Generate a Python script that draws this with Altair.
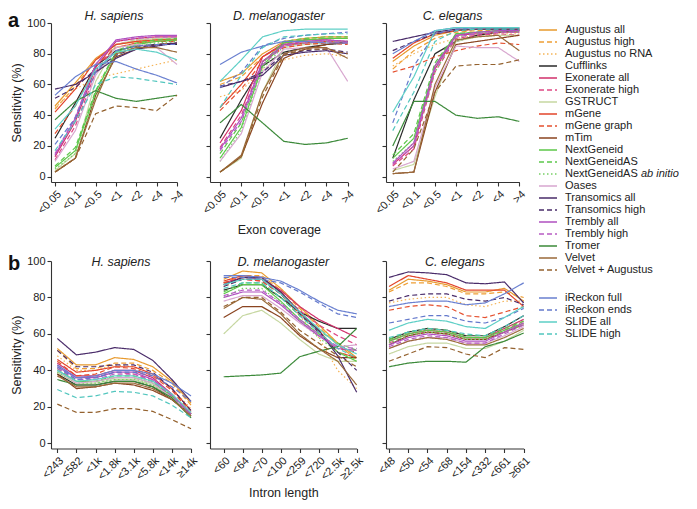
import json
import altair as alt
import pandas as pd

METHODS = ["Augustus all", "Augustus high", "Augustus no RNA", "Cufflinks", "Exonerate all",
           "Exonerate high", "GSTRUCT", "mGene", "mGene graph", "mTim", "NextGeneid",
           "NextGeneidAS", "NextGeneidAS ab initio", "Oases", "Transomics all", "Transomics high",
           "Trembly all", "Trembly high", "Tromer", "Velvet", "Velvet + Augustus",
           "iReckon full", "iReckon ends", "SLIDE all", "SLIDE high"]
COLORS = ["#E89A2E", "#EE9F35", "#F5B457", "#2B2B2B", "#D1306B",
          "#DE4884", "#C6D7A1", "#E2452B", "#E5502F", "#8A4420", "#5DC84A",
          "#5CC74B", "#77D066", "#D8A7CF", "#4A2C6A", "#4A2C6A",
          "#B050C0", "#B85CC4", "#3C8A3A", "#9A6A3A", "#94622F",
          "#6A80D0", "#6479CC", "#5ECFC6", "#52C6BE"]
STYLE = ["solid", "dashed", "dotted", "solid", "solid", "dashed", "solid", "solid", "dashed",
         "solid", "solid", "dashed", "dotted", "solid", "solid", "dashed", "solid", "dashed",
         "solid", "solid", "dashed", "solid", "dashed", "solid", "dashed"]
LEGEND_SLOTS = list(range(21)) + [22 + 1 / 3, 23 + 1 / 3, 24 + 1 / 3, 25 + 1 / 3]

EXON_CATS = ["<0.05", "<0.1", "<0.5", "<1", "<2", "<4", ">4"]
HS_INTRON_CATS = ["<243", "<582", "<1k", "<1.8k", "<3.1k", "<5.8k", "<14k", "≥14k"]
DM_INTRON_CATS = ["<60", "<64", "<70", "<100", "<259", "<720", "<2.5k", "≥2.5k"]
CE_INTRON_CATS = ["<48", "<50", "<54", "<68", "<154", "<332", "<661", "≥661"]

HS_EXON = {
    "Augustus all": [46, 61, 77, 86, 88, 89, 90],
    "Augustus high": [44, 59, 76, 84, 87, 88, 89],
    "Augustus no RNA": [45, 57, 64, 67, 70, 73, 76],
    "Cufflinks": [25, 48, 72, 82, 85, 86, 86],
    "Exonerate all": [13, 36, 71, 88, 90, 91, 91],
    "Exonerate high": [11, 33, 68, 86, 89, 90, 90],
    "GSTRUCT": [4, 15, 62, 86, 89, 90, 90],
    "mGene": [42, 57, 76, 86, 88, 89, 89],
    "mGene graph": [28, 46, 72, 84, 87, 88, 88],
    "mTim": [3, 12, 53, 78, 83, 86, 87],
    "NextGeneid": [6, 17, 55, 81, 86, 88, 89],
    "NextGeneidAS": [7, 19, 56, 82, 87, 89, 90],
    "NextGeneidAS ab initio": [5, 15, 52, 79, 85, 87, 88],
    "Oases": [10, 30, 66, 84, 86, 84, 73],
    "Transomics all": [57, 60, 68, 77, 83, 85, 87],
    "Transomics high": [51, 58, 70, 79, 84, 86, 87],
    "Trembly all": [14, 38, 73, 89, 91, 92, 92],
    "Trembly high": [15, 39, 73, 88, 90, 91, 91],
    "Tromer": [37, 49, 56, 51, 49, 51, 53],
    "Velvet": [3, 12, 50, 80, 84, 84, 81],
    "Velvet + Augustus": [3, 12, 41, 46, 45, 43, 53],
    "iReckon full": [53, 65, 73, 75, 70, 66, 61],
    "iReckon ends": [21, 38, 68, 82, 85, 86, 86],
    "SLIDE all": [31, 46, 70, 81, 83, 81, 76],
    "SLIDE high": [17, 36, 60, 65, 64, 62, 60],
}
DM_EXON = {
    "Augustus all": [62, 67, 80, 88, 90, 91, 91],
    "Augustus high": [60, 65, 78, 86, 89, 90, 90],
    "Augustus no RNA": [52, 56, 70, 76, 79, 80, 78],
    "Cufflinks": [25, 50, 72, 81, 84, 86, 87],
    "Exonerate all": [22, 43, 78, 87, 89, 89, 88],
    "Exonerate high": [19, 40, 75, 85, 87, 88, 87],
    "GSTRUCT": [3, 12, 55, 84, 86, 87, 87],
    "mGene": [45, 60, 78, 86, 87, 88, 87],
    "mGene graph": [43, 57, 75, 84, 86, 87, 86],
    "mTim": [3, 13, 48, 77, 83, 86, 88],
    "NextGeneid": [12, 32, 72, 87, 89, 90, 90],
    "NextGeneidAS": [15, 35, 74, 88, 90, 91, 91],
    "NextGeneidAS ab initio": [10, 30, 70, 85, 87, 88, 88],
    "Oases": [10, 28, 68, 83, 84, 84, 62],
    "Transomics all": [58, 62, 66, 79, 81, 82, 80],
    "Transomics high": [59, 62, 68, 80, 82, 83, 81],
    "Trembly all": [18, 38, 75, 86, 88, 89, 88],
    "Trembly high": [17, 36, 73, 85, 87, 88, 87],
    "Tromer": [35, 47, 35, 23, 21, 22, 25],
    "Velvet": [3, 14, 55, 80, 84, 84, 77],
    "Velvet + Augustus": [3, 13, 52, 79, 83, 83, 80],
    "iReckon full": [73, 81, 85, 88, 88, 87, 87],
    "iReckon ends": [58, 68, 85, 90, 92, 93, 94],
    "SLIDE all": [62, 76, 91, 95, 96, 96, 96],
    "SLIDE high": [45, 66, 84, 91, 92, 93, 93],
}
CE_EXON = {
    "Augustus all": [75, 85, 92, 95, 96, 96, 96],
    "Augustus high": [70, 82, 90, 94, 95, 95, 95],
    "Augustus no RNA": [72, 80, 86, 90, 92, 93, 93],
    "Cufflinks": [12, 50, 80, 88, 92, 94, 95],
    "Exonerate all": [8, 20, 70, 92, 93, 94, 94],
    "Exonerate high": [7, 18, 68, 90, 92, 93, 92],
    "GSTRUCT": [4, 8, 52, 88, 91, 92, 92],
    "mGene": [77, 87, 93, 95, 96, 96, 96],
    "mGene graph": [68, 72, 78, 82, 85, 87, 86],
    "mTim": [2, 3, 55, 86, 88, 90, 92],
    "NextGeneid": [12, 25, 72, 93, 94, 95, 95],
    "NextGeneidAS": [14, 28, 74, 93, 94, 95, 95],
    "NextGeneidAS ab initio": [10, 22, 68, 91, 93, 94, 94],
    "Oases": [5, 10, 58, 85, 84, 84, 75],
    "Transomics all": [88, 91, 94, 96, 96, 96, 96],
    "Transomics high": [82, 88, 93, 95, 96, 96, 96],
    "Trembly all": [9, 22, 72, 92, 94, 95, 95],
    "Trembly high": [8, 20, 70, 91, 93, 94, 94],
    "Tromer": [20, 49, 49, 40, 38, 39, 36],
    "Velvet": [2, 3, 60, 89, 91, 92, 82],
    "Velvet + Augustus": [3, 18, 55, 72, 73, 73, 76],
    "iReckon full": [80, 88, 95, 97, 97, 97, 97],
    "iReckon ends": [35, 72, 93, 96, 97, 97, 97],
    "SLIDE all": [42, 65, 95, 97, 97, 97, 97],
    "SLIDE high": [30, 55, 88, 95, 96, 96, 96],
}
HS_INTRON = {
    "Augustus all": [52, 43, 43, 47, 46, 42, 34, 22],
    "Augustus high": [51, 41, 41, 44, 44, 40, 33, 21],
    "Augustus no RNA": [48, 40, 40, 43, 42, 38, 30, 19],
    "Cufflinks": [38, 32, 32, 34, 34, 31, 24, 16],
    "Exonerate all": [44, 37, 37, 40, 40, 36, 27, 16],
    "Exonerate high": [43, 36, 36, 39, 38, 35, 26, 15],
    "GSTRUCT": [39, 33, 33, 35, 35, 32, 25, 15],
    "mGene": [46, 39, 40, 42, 42, 38, 30, 18],
    "mGene graph": [45, 37, 38, 42, 41, 37, 29, 17],
    "mTim": [38, 30, 31, 33, 32, 29, 24, 16],
    "NextGeneid": [40, 34, 34, 36, 36, 33, 26, 16],
    "NextGeneidAS": [41, 34, 34, 37, 37, 34, 26, 16],
    "NextGeneidAS ab initio": [39, 33, 33, 35, 35, 32, 25, 15],
    "Oases": [40, 33, 34, 36, 36, 33, 25, 17],
    "Transomics all": [57.5, 48.5, 50, 52.5, 51.5, 45.5, 35, 23],
    "Transomics high": [51, 42, 42, 43, 43, 39, 30, 18],
    "Trembly all": [42, 36, 36, 39, 39, 35, 27, 16],
    "Trembly high": [41, 35, 35, 38, 38, 34, 26, 15],
    "Tromer": [35, 32, 32, 34, 34, 31, 25, 14],
    "Velvet": [37, 31, 31, 33, 33, 30, 24, 15],
    "Velvet + Augustus": [21.5, 17, 17, 19, 19, 17.5, 13, 8],
    "iReckon full": [43, 36, 37, 40, 40, 38, 33, 26],
    "iReckon ends": [42, 35, 36, 39, 39, 37, 31, 23],
    "SLIDE all": [40, 34, 35, 37, 37, 34, 27, 17],
    "SLIDE high": [29.5, 25, 26, 28.5, 28, 26, 21, 14],
}
DM_INTRON = {
    "Augustus all": [90, 94.5, 93.5, 85, 75, 65, 55, 47],
    "Augustus high": [88, 92, 92, 84, 74, 64, 54, 46],
    "Augustus no RNA": [86, 90, 90, 82, 70, 58, 40, 30],
    "Cufflinks": [84, 87, 87, 80, 72, 67, 63, 63],
    "Exonerate all": [88, 91, 90, 84, 75, 68, 63, 58],
    "Exonerate high": [87, 90, 89, 82, 73, 65, 59, 54],
    "GSTRUCT": [60, 70, 73, 66, 57, 49, 45, 45],
    "mGene": [89, 92, 91, 83, 72, 62, 50, 47],
    "mGene graph": [88, 90, 89, 82, 71, 61, 52, 50],
    "mTim": [69, 75, 75, 69, 59, 52, 47, 47],
    "NextGeneid": [82, 87, 87, 78, 68, 60, 50, 45],
    "NextGeneidAS": [83, 88, 88, 80, 70, 62, 55, 51],
    "NextGeneidAS ab initio": [80, 85, 85, 77, 67, 58, 50, 46],
    "Oases": [78, 81, 81, 74, 66, 59, 53, 54],
    "Transomics all": [87, 91, 91, 83, 72, 62, 48, 28],
    "Transomics high": [86, 90, 90, 82, 71, 61, 50, 40],
    "Trembly all": [80, 83, 83, 76, 67, 59, 52, 51],
    "Trembly high": [81, 84, 84, 77, 68, 60, 53, 52],
    "Tromer": [36.5, 37, 37.5, 38.5, 47.5, 50.5, 53, 63],
    "Velvet": [74, 80, 79, 71, 60, 52, 45, 32],
    "Velvet + Augustus": [75, 80, 80, 72, 62, 55, 48, 42],
    "iReckon full": [92, 92, 91, 89, 84, 78, 73, 71],
    "iReckon ends": [91, 91, 90, 88, 83, 77, 71, 69],
    "SLIDE all": [87, 90, 90, 82, 72, 63, 54, 49],
    "SLIDE high": [85, 88, 88, 80, 70, 61, 52, 47],
}
CE_INTRON = {
    "Augustus all": [84, 90, 89, 87, 83, 83, 85, 78],
    "Augustus high": [83, 88, 88, 86, 82, 82, 83, 80],
    "Augustus no RNA": [77, 79, 80, 80, 76, 75, 78, 78],
    "Cufflinks": [57, 61, 63, 62, 59, 59, 64, 70],
    "Exonerate all": [56, 60, 62, 61, 58, 58, 63, 68],
    "Exonerate high": [55, 59, 61, 60, 57, 57, 62, 67],
    "GSTRUCT": [49, 53, 55, 55, 52, 52, 56, 62],
    "mGene": [86, 92, 90, 88, 84, 84, 84, 75],
    "mGene graph": [73, 75, 76, 75, 70, 69, 72, 75],
    "mTim": [54, 59, 61, 60, 57, 57, 61, 65],
    "NextGeneid": [56, 60, 62, 61, 58, 58, 62, 66],
    "NextGeneidAS": [57, 61, 63, 62, 59, 59, 63, 67],
    "NextGeneidAS ab initio": [55, 59, 61, 60, 57, 57, 61, 65],
    "Oases": [52, 56, 58, 58, 55, 55, 59, 64],
    "Transomics all": [91, 94, 93.5, 92.5, 88, 87.5, 88.5, 77],
    "Transomics high": [78, 81, 82, 82, 79, 78, 80, 76],
    "Trembly all": [54, 58, 60, 59, 56, 56, 61, 66],
    "Trembly high": [53, 57, 59, 58, 55, 55, 60, 65],
    "Tromer": [42, 44, 45, 45, 44.5, 53, 56, 60.5],
    "Velvet": [52, 56, 58, 57, 54, 54, 58, 63],
    "Velvet + Augustus": [45, 49, 53, 52.5, 49, 47, 52.5, 51.5],
    "iReckon full": [75, 77, 78, 78, 76, 77, 82, 88],
    "iReckon ends": [66, 68, 70, 70, 67, 66, 69, 74],
    "SLIDE all": [62, 66, 68, 67, 64, 63, 69, 75],
    "SLIDE high": [58, 61, 63, 62, 60, 59, 64, 70],
}

FONT = "Liberation Sans"
DASH_OF = {"solid": [1, 0], "dashed": [5, 3], "dotted": [1.5, 2.5]}
DASHES = [DASH_OF[s] for s in STYLE]
color_scale = alt.Scale(domain=METHODS, range=COLORS)
dash_scale = alt.Scale(domain=METHODS, range=DASHES)


def panel(data, cats, title, w, h, pad, ymin, show_y, xtitle, title_y, xtpad,
          letter=None, letter_y=0):
    rows = []
    for m in METHODS:
        for i, v in enumerate(data[m]):
            rows.append({"method": m, "i": i, "value": v})
    df = pd.DataFrame(rows)
    n = len(cats)
    lab = json.dumps(cats, ensure_ascii=False) + "[datum.value]"
    xaxis = dict(values=list(range(n)), labelExpr=lab, labelAngle=-45, grid=False,
                 labelPadding=2, titlePadding=xtpad, labelOverlap=False, labelBound=False)
    yaxis = dict(values=[0, 20, 40, 60, 80, 100], grid=False, labels=show_y, titlePadding=3)
    lines = alt.Chart(df).mark_line(strokeWidth=1.2).encode(
        x=alt.X("i:Q", scale=alt.Scale(domain=[-pad, n - 1], nice=False, zero=False),
                axis=alt.Axis(**xaxis), title=xtitle if xtitle else None),
        y=alt.Y("value:Q", scale=alt.Scale(domain=[ymin, 100], nice=False, zero=False),
                axis=alt.Axis(**yaxis), title="Sensitivity (%)" if show_y else None),
        color=alt.Color("method:N", scale=color_scale, legend=None),
        strokeDash=alt.StrokeDash("method:N", scale=dash_scale, legend=None),
        order=alt.Order("i:Q"),
    )
    ttl = alt.Chart(pd.DataFrame({"t": [title]})).mark_text(
        font=FONT, fontSize=12.5, fontStyle="italic", color="#222", baseline="middle", align="center"
    ).encode(x=alt.value(w / 2), y=alt.value(title_y), text="t:N")
    layers = [lines, ttl]
    if letter:
        lt = alt.Chart(pd.DataFrame({"t": [letter]})).mark_text(
            font=FONT, fontSize=20, fontWeight="bold", color="#111", baseline="alphabetic", align="left"
        ).encode(x=alt.value(-43), y=alt.value(letter_y), text="t:N")
        layers.append(lt)
    return alt.layer(*layers).properties(width=w, height=h)


def spacer(w, h):
    return alt.Chart(pd.DataFrame({"z": [0]})).mark_point(opacity=0, size=1).encode(
        x=alt.value(0), y=alt.value(1)).properties(width=w, height=h)


# legend
LEG_FS = 11
leg_rows = []
for k, m in enumerate(METHODS):
    leg_rows.append({"method": m, "slot": LEGEND_SLOTS[k],
                     "label": "NextGeneidAS" if m == "NextGeneidAS ab initio" else m})
leg_df = pd.DataFrame(leg_rows)
ital_df = pd.DataFrame({"slot": [LEGEND_SLOTS[METHODS.index("NextGeneidAS ab initio")]], "t": ["ab initio"]})
HA = 159
HB = 187.5
yleg = alt.Y("slot:Q", scale=alt.Scale(domain=[0, 25], range=[7, 307]), axis=None)
leg_lines = alt.Chart(leg_df).mark_rule(strokeWidth=1.6).encode(
    x=alt.value(0), x2=alt.value(18), y=yleg,
    color=alt.Color("method:N", scale=color_scale, legend=None),
    strokeDash=alt.StrokeDash("method:N", scale=dash_scale, legend=None),
)
leg_text = alt.Chart(leg_df).mark_text(font=FONT, fontSize=LEG_FS, color="#222", align="left",
                                       baseline="middle").encode(
    x=alt.value(26), y=yleg, text="label:N")
leg_ital = alt.Chart(ital_df).mark_text(font=FONT, fontSize=LEG_FS, color="#222", align="left",
                                        baseline="middle", fontStyle="italic").encode(
    x=alt.value(26 + 76), y=yleg, text="t:N")
legend = alt.layer(leg_lines, leg_text, leg_ital).properties(width=20, height=HA)

p1 = panel(HS_EXON, EXON_CATS, "H. sapiens", 126, HA, 0.197, -3.44, True, None, -7, 8, "a", 3.5)
p2 = panel(DM_EXON, EXON_CATS, "D. melanogaster", 137.7, HA, 0.47, -3.44, False, "Exon coverage", -7, 8)
p3 = panel(CE_EXON, EXON_CATS, "C. elegans", 133.3, HA, 0.32, -3.44, False, None, -7, 8)
q1 = panel(HS_INTRON, HS_INTRON_CATS, "H. sapiens", 140, HB, 0.33, -2.84, True, None, 1, 5, "b", 9)
q2 = panel(DM_INTRON, DM_INTRON_CATS, "D. melanogaster", 146.7, HB, 0.72, -2.84, False, "Intron length", 1, 5)
q3 = panel(CE_INTRON, CE_INTRON_CATS, "C. elegans", 137.7, HB, 0.156, -2.84, False, None, 1, 5)

LEFT, TOP, SVG_W, SVG_H = 43, 15, 681, 493
chart = alt.concat(
    p1, spacer(19, HA), p2, spacer(28.3, HA), p3, spacer(14.3, HA), legend,
    q1, spacer(19, HB), q2, spacer(28.3, HB), q3,
    columns=7, spacing={"row": 79, "column": 0}, bounds="flush", align="each",
).properties(
    autosize=alt.AutoSizeParams(type="none"),
    padding={"top": TOP, "left": LEFT, "right": SVG_W - LEFT, "bottom": SVG_H - TOP},
).configure_view(stroke=None).configure_axis(
    labelFont=FONT, labelFontSize=11, labelColor="#222", titleFont=FONT, titleFontSize=12.5,
    titleFontWeight="normal", titleColor="#222", domainColor="#333", tickColor="#333",
    tickSize=4, domainWidth=1.1, tickWidth=1.1,
)

chart.save("out.html", embed_options={"renderer": "svg", "actions": False})
